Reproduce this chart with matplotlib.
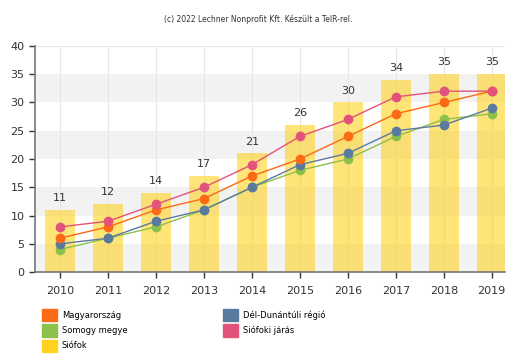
import numpy as np
import matplotlib.pyplot as plt
from matplotlib.patches import Patch

# data
years = ['2010', '2011', '2012', '2013', '2014', '2015', '2016', '2017', '2018', '2019']
siofok = [11, 12, 14, 17, 21, 26, 30, 34, 35, 35]
siofoki_jaras = [8, 9, 12, 15, 19, 24, 27, 31, 32, 32]
magyarorszag = [6, 8, 11, 13, 17, 20, 24, 28, 30, 32]
del_dunantul = [5, 6, 9, 11, 15, 19, 21, 25, 26, 29]
somogy = [4, 6, 8, 11, 15, 18, 20, 24, 27, 28]

c_orange = '#fb6a14'
c_green = '#8cc04a'
c_blue = '#5b7aa0'
c_pink = '#e2527b'
c_yellow = '#ffd21f'

fig = plt.figure(figsize=(5.16, 3.59), dpi=100)
ax = fig.add_axes([0.068, 0.242, 0.911, 0.63])

x = np.arange(len(years))

# alternating background bands
for lo in range(0, 40, 10):
    ax.axhspan(lo, lo + 5, color='#f2f2f2', zorder=0, lw=0)
# vertical grid lines at categories
for b in x:
    ax.axvline(b, color='#e6e6e6', lw=0.8, zorder=0.5)
ax.axhline(40, color='#e6e6e6', lw=0.8, zorder=0.5)

ax.bar(x, siofok, width=0.62, color=c_yellow, alpha=0.6, zorder=1)
for xi, v in zip(x, siofok):
    ax.text(xi, v + 1.2, str(v), ha='center', va='bottom', fontsize=8, color='#333333')

for vals, col in [(somogy, c_green), (del_dunantul, c_blue),
                  (magyarorszag, c_orange), (siofoki_jaras, c_pink)]:
    ax.plot(x, vals, color=col, lw=1, zorder=3)
    ax.plot(x, vals, 'o', color=col, ms=6, zorder=4)

ax.set_xlim(-0.52, 9.28)
ax.set_ylim(0, 40)
ax.set_yticks(range(0, 41, 5))
ax.set_xticks(x)
ax.set_xticklabels(years)
ax.tick_params(axis='both', labelsize=8, colors='#333333', length=4, width=1)
ax.tick_params(axis='x', length=4, pad=6)
for s in ['top', 'right']:
    ax.spines[s].set_visible(False)
for s in ['left', 'bottom']:
    ax.spines[s].set_color('#777777')
    ax.spines[s].set_linewidth(1.2)

fig.text(0.5, 0.947, '(c) 2022 Lechner Nonprofit Kft. Készült a TeIR-rel.',
         ha='center', va='center', fontsize=5.5, color='#333333')

leg_kw = dict(loc='upper left', frameon=False, fontsize=6, handlelength=1.8,
              handleheight=1.9, labelspacing=0.35, borderpad=0, borderaxespad=0,
              handletextpad=0.6)
fig.legend([Patch(color=c_orange), Patch(color=c_green), Patch(color=c_yellow)],
           ['Magyarország', 'Somogy megye', 'Siófok'],
           bbox_to_anchor=(0.081, 0.139), **leg_kw)
fig.legend([Patch(color=c_blue), Patch(color=c_pink)],
           ['Dél-Dunántúli régió', 'Siófoki járás'],
           bbox_to_anchor=(0.432, 0.139), **leg_kw)

fig.savefig('out.png', dpi=100)
